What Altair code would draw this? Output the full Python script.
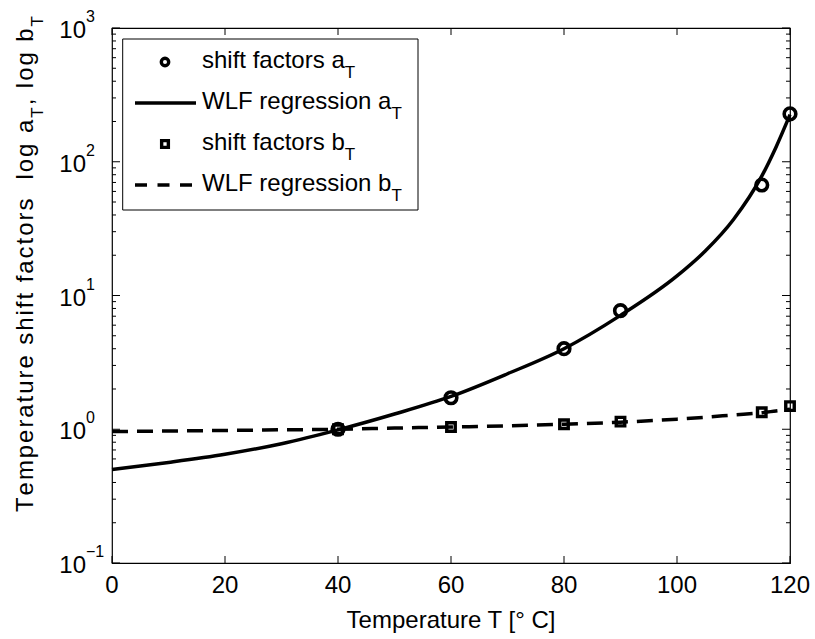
import altair as alt
import pandas as pd

# ---------------- data ----------------
T_meas = [40, 60, 80, 90, 115, 120]
aT_meas = [1.0, 1.72, 4.0, 7.7, 67.0, 228.0]
bT_meas = [1.0, 1.04, 1.09, 1.14, 1.34, 1.49]

T_fit = [0, 10, 20, 30, 40, 50, 60, 70, 80, 90, 100, 105, 110, 115, 117.5, 120]
aT_fit = [0.50, 0.565, 0.65, 0.78, 0.99, 1.30, 1.76, 2.6, 4.0, 7.1, 14.0, 21.5, 37.0, 78.0, 128.0, 225.0]
bT_fit = [0.96, 0.97, 0.98, 0.99, 1.0, 1.02, 1.04, 1.06, 1.09, 1.13, 1.19, 1.23, 1.28, 1.33, 1.37, 1.41]

x_ticks = [0, 20, 40, 60, 80, 100, 120]
y_exponents = [-1, 0, 1, 2, 3]
y_exp_labels = ["\u22121", "0", "1", "2", "3"]
y_minor = [m * 10.0 ** k for k in (-1, 0, 1, 2) for m in range(2, 10)]

legend_labels = ["shift factors a", "WLF regression a", "shift factors b", "WLF regression b"]
legend_sub = "T"
x_title = "Temperature T [\u00b0 C]"
# (text, is_subscript)
y_title_parts = [("Temperature shift factors  log a", False), ("T", True), (", log b", False), ("T", True)]

# ---------------- layout ----------------
W, H = 678, 535
FONT = "Liberation Sans"
AW = {' ': 278, ',': 278, 'T': 611, 'W': 944, 'L': 556, 'F': 611, 'C': 722, 'a': 556, 'b': 556,
      'c': 500, 'e': 556, 'f': 278, 'g': 556, 'h': 556, 'i': 222, 'l': 222, 'm': 833,
      'n': 556, 'o': 556, 'p': 556, 'r': 333, 's': 500, 't': 278, 'u': 556}


def tw(s, size):
    return sum(AW.get(c, 556) for c in s) * size / 1000.0


xs = alt.Scale(domain=[0, 120], nice=False, zero=False)
ys = alt.Scale(type="log", domain=[0.1, 1000], nice=False)


def X(f):
    return alt.X(f, type="quantitative", scale=xs, axis=None)


def Y(f):
    return alt.Y(f, type="quantitative", scale=ys, axis=None)


fit_df = pd.DataFrame({"T": T_fit, "a": aT_fit, "b": bT_fit})
meas_df = pd.DataFrame({"T": T_meas, "a": aT_meas, "b": bT_meas})
xt_df = pd.DataFrame({"T": x_ticks, "lab": [str(t) for t in x_ticks]})
ymaj_df = pd.DataFrame({"v": [10.0 ** e for e in y_exponents], "base": ["10"] * len(y_exponents),
                        "exp": y_exp_labels})
ymin_df = pd.DataFrame({"v": y_minor})
one = pd.DataFrame({"k": [0]})

layers = []

# curves
layers.append(alt.Chart(fit_df).mark_line(color="black", strokeWidth=3.5, interpolate="monotone")
              .encode(x=X("T"), y=Y("a")))
layers.append(alt.Chart(fit_df).mark_line(color="black", strokeWidth=3.5, strokeDash=[16, 9],
                                          interpolate="monotone")
              .encode(x=X("T"), y=Y("b")))
# markers
layers.append(alt.Chart(meas_df).mark_point(shape="circle", filled=False, size=135, strokeWidth=3.6,
                                            color="black", opacity=1)
              .encode(x=X("T"), y=Y("a")))
layers.append(alt.Chart(meas_df).mark_point(shape="square", filled=False, size=72, strokeWidth=3.4,
                                            color="black", opacity=1)
              .encode(x=X("T"), y=Y("b")))

# inward ticks
rule = dict(color="black", strokeWidth=1)
layers.append(alt.Chart(xt_df).mark_rule(**rule).encode(x=X("T"), y=alt.value(H), y2=alt.value(H - 7)))
layers.append(alt.Chart(xt_df).mark_rule(**rule).encode(x=X("T"), y=alt.value(0), y2=alt.value(7)))
layers.append(alt.Chart(ymaj_df).mark_rule(**rule).encode(y=Y("v"), x=alt.value(0), x2=alt.value(8)))
layers.append(alt.Chart(ymaj_df).mark_rule(**rule).encode(y=Y("v"), x=alt.value(W), x2=alt.value(W - 8)))
layers.append(alt.Chart(ymin_df).mark_rule(**rule).encode(y=Y("v"), x=alt.value(0), x2=alt.value(4)))
layers.append(alt.Chart(ymin_df).mark_rule(**rule).encode(y=Y("v"), x=alt.value(W), x2=alt.value(W - 4)))

# tick labels
layers.append(alt.Chart(xt_df).mark_text(font=FONT, fontSize=24, align="center", baseline="alphabetic",
                                         color="black")
              .encode(x=X("T"), y=alt.value(H + 30), text="lab:N"))
layers.append(alt.Chart(ymaj_df).mark_text(font=FONT, fontSize=24, align="right", baseline="alphabetic",
                                           dy=10, color="black")
              .encode(y=Y("v"), x=alt.value(-26), text="base:N"))
layers.append(alt.Chart(ymaj_df).mark_text(font=FONT, fontSize=16, align="left", baseline="alphabetic",
                                           dy=-6, color="black")
              .encode(y=Y("v"), x=alt.value(-26), text="exp:N"))

# x title
layers.append(alt.Chart(pd.DataFrame({"t": [x_title]}))
              .mark_text(font=FONT, fontSize=24, align="center", baseline="alphabetic", color="black")
              .encode(x=alt.value(W / 2), y=alt.value(H + 65), text="t:N"))

# y title (rotated, character by character with MATLAB-like loose spacing, subscripts lowered)
MS, SS = 24, 17
chars = []
for txt, sub in y_title_parts:
    for c in txt:
        chars.append((c, sub))
natural = sum(tw(c, SS if sub else MS) for c, sub in chars)
y_start, y_end = 484.0, -12.0
spacing = ((y_start - y_end) - natural) / (len(chars) - 1)
pos = y_start
for c, sub in chars:
    size = SS if sub else MS
    if c != " ":
        layers.append(alt.Chart(pd.DataFrame({"t": [c]}))
                      .mark_text(font=FONT, fontSize=size, align="left", baseline="alphabetic",
                                 angle=270, color="black")
                      .encode(x=alt.value(-69 if sub else -79), y=alt.value(pos), text="t:N"))
    pos -= tw(c, size) + spacing

# legend
LX0, LX1, LY0, LY1 = 10.7, 306, 11, 182
rows = [34, 75, 116, 157]
layers.append(alt.Chart(one).mark_rect(fill="white", stroke="black", strokeWidth=1)
              .encode(x=alt.value(LX0), x2=alt.value(LX1), y=alt.value(LY0), y2=alt.value(LY1)))
layers.append(alt.Chart(one).mark_point(shape="circle", filled=False, size=55, strokeWidth=3.4,
                                        color="black", opacity=1)
              .encode(x=alt.value(53), y=alt.value(rows[0])))
layers.append(alt.Chart(one).mark_rule(color="black", strokeWidth=3.5)
              .encode(x=alt.value(23), x2=alt.value(84), y=alt.value(rows[1])))
layers.append(alt.Chart(one).mark_point(shape="square", filled=False, size=45, strokeWidth=3.4,
                                        color="black", opacity=1)
              .encode(x=alt.value(53), y=alt.value(rows[2])))
layers.append(alt.Chart(one).mark_rule(color="black", strokeWidth=3.5, strokeDash=[12, 10.5])
              .encode(x=alt.value(23), x2=alt.value(84), y=alt.value(rows[3])))
LS = 24
for lab, r in zip(legend_labels, rows):
    layers.append(alt.Chart(pd.DataFrame({"t": [lab]}))
                  .mark_text(font=FONT, fontSize=LS, align="left", baseline="alphabetic", color="black")
                  .encode(x=alt.value(90), y=alt.value(r + 6.3), text="t:N"))
    layers.append(alt.Chart(pd.DataFrame({"t": [legend_sub]}))
                  .mark_text(font=FONT, fontSize=17, align="left", baseline="alphabetic", color="black")
                  .encode(x=alt.value(90 + tw(lab, LS)), y=alt.value(r + 16), text="t:N"))

chart = (alt.layer(*layers)
         .properties(width=W, height=H, background="white",
                     autosize=alt.AutoSizeParams(type="none"),
                     padding={"left": 112, "top": 28, "right": 25, "bottom": 76})
         .configure_view(stroke="black", strokeWidth=1.2))

chart.save("out.html", embed_options={"renderer": "svg", "actions": False})
